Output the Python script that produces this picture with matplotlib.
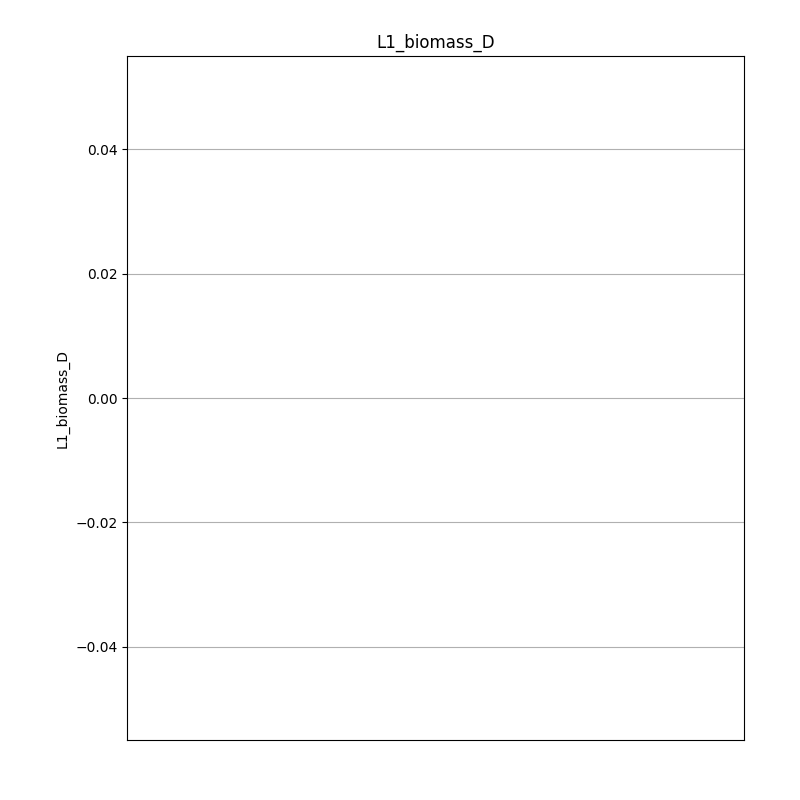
import numpy as np
import matplotlib
matplotlib.use('Agg')
import matplotlib.pyplot as plt

title = 'L1_biomass_D'
# no data points in the reference: the series is empty
values = np.array([])
positions = np.arange(len(values))

fig, ax = plt.subplots(figsize=(8, 8), dpi=100)
ax.scatter(positions, values)
ax.set_title(title)
ax.set_ylabel(title)
ax.set_ylim(-0.055, 0.055)
ax.set_yticks([-0.04, -0.02, 0.0, 0.02, 0.04])
ax.set_xticks([])
ax.grid(True, axis='y')

fig.subplots_adjust(left=0.159, right=0.93, top=0.93, bottom=0.075)
fig.savefig('out.png')
